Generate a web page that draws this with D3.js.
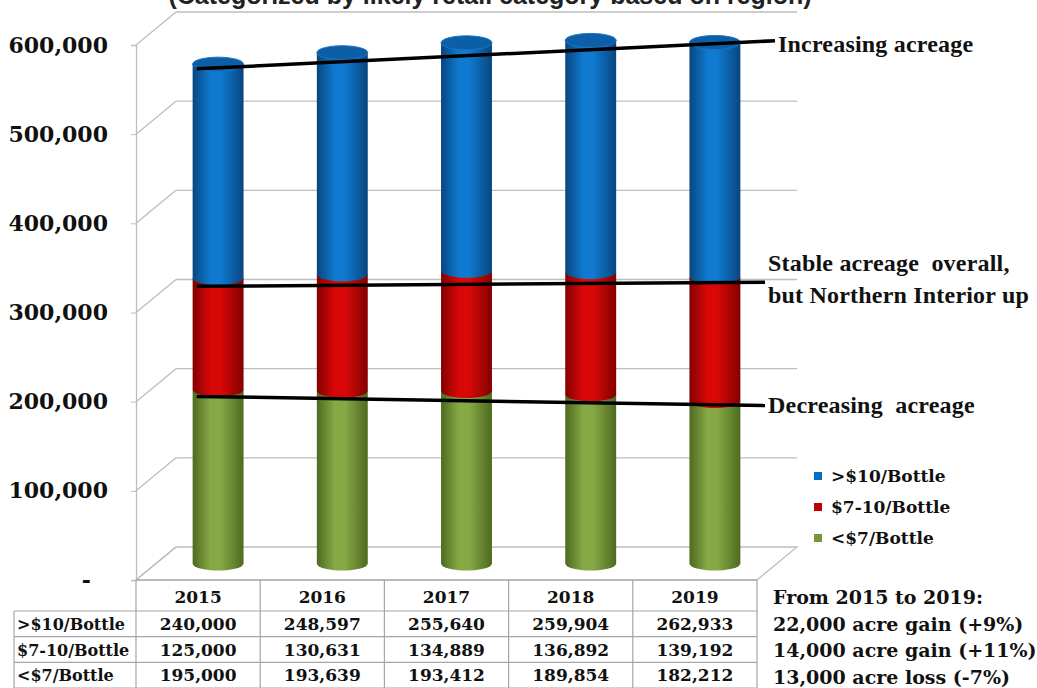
<!DOCTYPE html>
<html>
<head>
<meta charset="utf-8">
<script src="https://cdn.jsdelivr.net/npm/d3@7"></script>
<style>
  html, body { margin: 0; padding: 0; background: #fff; }
  svg { display: block; }
</style>
</head>
<body>
<svg id="chart" width="1037" height="688"></svg>
<script>
// ------------------- Data -------------------
const years = ["2015", "2016", "2017", "2018", "2019"];
const seriesNames = ["<$7/Bottle", "$7-10/Bottle", ">$10/Bottle"];   // bottom -> top
const under7 = [195000, 193639, 193412, 189854, 182212];
const from7to10 = [125000, 130631, 134889, 136892, 139192];
const over10 = [240000, 248597, 255640, 259904, 262933];
const yTicks = [0, 100000, 200000, 300000, 400000, 500000, 600000];

// trend annotations: value at the 2015 bar and at the 2019 bar
const trendLabels = [["Increasing acreage"], ["Stable acreage  overall,", "but Northern Interior up"], ["Decreasing  acreage"]];
const trendStart = [556000, 311000, 187000];
const trendEnd = [583000, 315000, 178000];

const summaryLines = ["From 2015 to 2019:", "22,000 acre gain (+9%)", "14,000 acre gain (+11%)", "13,000 acre loss (-7%)"];
const titleText = "(Categorized by likely retail category based on region)";

// ------------------- Setup -------------------
const svg = d3.select("#chart");
const serif = "'DejaVu Serif', serif";
const times = "'Liberation Serif', 'Times New Roman', serif";

const depth = { dx: 40, dy: -33 };     // 3d offset of the back wall
const x = d3.scaleBand().domain(years).range([136, 757]);
const y = d3.scaleLinear().domain([0, 600000]).range([580, 45]);
const yMid = v => y(v) + depth.dy / 2;  // plane through bar centres
const barW = x.bandwidth() * 0.41;
const rx = barW / 2, ry = 7;
const cx = d => x(d) + x.bandwidth() / 2 + depth.dx / 2;

const colors = {
  "<$7/Bottle":   { edge: "#4e6a20", mid: "#86a845", base: "#77933C", cap: "#6f8c34" },
  "$7-10/Bottle": { edge: "#840000", mid: "#d80808", base: "#C00000", cap: "#b00000" },
  ">$10/Bottle":  { edge: "#08467f", mid: "#0f7ad0", base: "#0070C0", cap: "#0c5fa6" }
};

// title, mostly cut off at the top (as in the source image)
svg.append("text")
  .attr("x", 490).attr("y", 4)
  .attr("text-anchor", "middle")
  .attr("font-family", "'Liberation Sans', Arial, sans-serif")
  .attr("font-weight", "bold").attr("font-size", 25)
  .attr("fill", "#222")
  .text(titleText);

// ------------------- Walls / grid -------------------
const grid = svg.append("g").attr("stroke", "#bdbdbd").attr("stroke-width", 1.3).attr("fill", "none");
const [x0, x1] = x.range();

// floor
grid.append("path")
  .attr("d", `M${x0},${y(0)}L${x1},${y(0)}L${x1 + depth.dx},${y(0) + depth.dy}L${x0 + depth.dx},${y(0) + depth.dy}Z`);

// back wall gridlines + side wall diagonals
grid.selectAll("line.back").data(yTicks.filter(d => d > 0)).join("line")
  .attr("class", "back")
  .attr("x1", x0 + depth.dx).attr("x2", x1 + depth.dx)
  .attr("y1", d => y(d) + depth.dy).attr("y2", d => y(d) + depth.dy);

grid.selectAll("line.side").data(yTicks).join("line")
  .attr("class", "side")
  .attr("x1", x0).attr("x2", x0 + depth.dx)
  .attr("y1", d => y(d)).attr("y2", d => y(d) + depth.dy);

// y axis
const yAxis = svg.append("g")
  .attr("transform", `translate(${x0},0)`)
  .call(d3.axisLeft(y).tickValues(yTicks).tickSize(5).tickPadding(23)
    .tickFormat(d => d === 0 ? "-" : d3.format(",")(d)));
yAxis.select(".domain").attr("stroke", "#bdbdbd").attr("stroke-width", 1.3);
yAxis.selectAll(".tick line").attr("stroke", "#bdbdbd");
yAxis.selectAll(".tick text")
  .attr("font-family", serif).attr("font-weight", "bold").attr("font-size", 22)
  .attr("fill", "#111")
  .attr("dx", d => d === 0 ? -17 : 0);

// ------------------- Cylinders -------------------
const defs = svg.append("defs");
seriesNames.forEach((s, i) => {
  const c = colors[s];
  const grad = defs.append("linearGradient").attr("id", "g" + i)
    .attr("x1", "0%").attr("x2", "100%").attr("y1", "0%").attr("y2", "0%");
  grad.append("stop").attr("offset", "0%").attr("stop-color", c.edge);
  grad.append("stop").attr("offset", "35%").attr("stop-color", c.mid);
  grad.append("stop").attr("offset", "55%").attr("stop-color", c.mid);
  grad.append("stop").attr("offset", "100%").attr("stop-color", c.edge);
});

const rowsTable = years.map((yr, i) => ({ year: yr, "<$7/Bottle": under7[i], "$7-10/Bottle": from7to10[i], ">$10/Bottle": over10[i] }));
const stack = d3.stack().keys(seriesNames)(rowsTable);

function segPath(d) {
  const c = cx(d.data.year);
  const yb = yMid(d[0]), yt = yMid(d[1]);
  return `M${c - rx},${yt}L${c - rx},${yb}A${rx},${ry} 0 0 0 ${c + rx},${yb}L${c + rx},${yt}Z`;
}

const bars = svg.append("g");
stack.forEach((layer, i) => {
  bars.append("g")
    .selectAll("path").data(layer).join("path")
    .attr("d", segPath)
    .attr("fill", `url(#g${i})`);
});

// caps on top of the highest series
const topLayer = stack[stack.length - 1];
bars.append("g").selectAll("ellipse").data(topLayer).join("ellipse")
  .attr("cx", d => cx(d.data.year))
  .attr("cy", d => yMid(d[1]))
  .attr("rx", rx).attr("ry", ry)
  .attr("fill", colors[seriesNames[2]].cap)
  .attr("stroke", "#1a74c4").attr("stroke-width", 1);

// ------------------- Trend lines -------------------
const xa = cx(years[0]), xb = cx(years[years.length - 1]);
const lineStart = xa - rx + 4;
const lineEnds = [x1 + depth.dx - 22, x1 + depth.dx - 32, x1 + depth.dx - 32];
const trends = trendStart.map((v, i) => {
  const ya = yMid(v), yb2 = yMid(trendEnd[i]);
  const slope = (yb2 - ya) / (xb - xa);
  return {
    x1: lineStart, y1: ya + slope * (lineStart - xa),
    x2: lineEnds[i], y2: ya + slope * (lineEnds[i] - xa),
    label: trendLabels[i]
  };
});

svg.append("g").selectAll("line").data(trends).join("line")
  .attr("x1", d => d.x1).attr("y1", d => d.y1)
  .attr("x2", d => d.x2).attr("y2", d => d.y2)
  .attr("stroke", "#000").attr("stroke-width", 3.5);

const tl = svg.append("g").selectAll("text").data(trends).join("text")
  .attr("font-family", times).attr("font-weight", "bold").attr("font-size", 24)
  .attr("letter-spacing", 0.2)
  .attr("fill", "#111")
  .style("white-space", "pre")
  .attr("x", d => d.x2 + 3)
  .attr("y", (d, i) => i === 0 ? d.y2 + 11 : i === 1 ? d.y2 - 11 : d.y2 + 7);
tl.selectAll("tspan").data(d => d.label.map(t => ({ t, x: d.x2 + 3 }))).join("tspan")
  .attr("x", d => d.x)
  .attr("dy", (d, i) => i === 0 ? 0 : 32)
  .text(d => d.t);

// ------------------- Legend -------------------
const legend = svg.append("g").attr("transform", "translate(814,476)");
const legendOrder = seriesNames.slice().reverse();
legend.selectAll("rect").data(legendOrder).join("rect")
  .attr("x", 0).attr("y", (d, i) => i * 31 - 4)
  .attr("width", 8).attr("height", 8)
  .attr("fill", d => colors[d].base);
legend.selectAll("text").data(legendOrder).join("text")
  .attr("x", 17).attr("y", (d, i) => i * 31 + 6)
  .attr("font-family", serif).attr("font-weight", "bold").attr("font-size", 17)
  .attr("fill", "#111")
  .text(d => d);

// ------------------- Data table -------------------
const rowTop = y(0), headH = 31, rowH = 25.7, labelX0 = 14;
const rowData = [
  { name: ">$10/Bottle", values: over10 },
  { name: "$7-10/Bottle", values: from7to10 },
  { name: "<$7/Bottle", values: under7 }
];
const tg = svg.append("g");
const tlines = tg.append("g").attr("stroke", "#a6a6a6").attr("stroke-width", 1.2);
// horizontal lines
tlines.append("line").attr("x1", x0).attr("x2", x1).attr("y1", rowTop).attr("y2", rowTop);
tlines.selectAll("line.h").data(d3.range(rowData.length + 1)).join("line")
  .attr("class", "h")
  .attr("x1", labelX0).attr("x2", x1)
  .attr("y1", i => rowTop + headH + i * rowH).attr("y2", i => rowTop + headH + i * rowH);
// vertical lines
tlines.selectAll("line.v").data(years.map(d => x(d)).concat([x1])).join("line")
  .attr("class", "v")
  .attr("x1", d => d).attr("x2", d => d)
  .attr("y1", rowTop).attr("y2", rowTop + headH + rowData.length * rowH);
tlines.append("line").attr("x1", labelX0).attr("x2", labelX0)
  .attr("y1", rowTop + headH).attr("y2", rowTop + headH + rowData.length * rowH);

const cellFont = sel => sel.attr("font-family", serif).attr("font-weight", "bold").attr("fill", "#111");

tg.append("g").selectAll("text").data(years).join("text")
  .call(cellFont).attr("font-size", 17)
  .attr("x", d => x(d) + x.bandwidth() / 2)
  .attr("y", rowTop + headH / 2 + 7)
  .attr("text-anchor", "middle")
  .text(d => d);

const rows = tg.append("g").selectAll("g").data(rowData).join("g")
  .attr("transform", (d, i) => `translate(0,${rowTop + headH + i * rowH + rowH / 2 + 6})`);
rows.append("text").call(cellFont).attr("font-size", 16)
  .attr("x", labelX0 + 3).text(d => d.name);
rows.selectAll("text.v").data(d => d.values.map((v, i) => ({ v, yr: years[i] }))).join("text")
  .attr("class", "v")
  .call(cellFont).attr("font-size", 17)
  .attr("x", d => x(d.yr) + x.bandwidth() / 2)
  .attr("text-anchor", "middle")
  .text(d => d3.format(",")(d.v));

// ------------------- Summary -------------------
svg.append("g").selectAll("text").data(summaryLines).join("text")
  .call(cellFont).attr("font-size", 19)
  .attr("x", 773)
  .attr("y", (d, i) => 604 + i * 26.5)
  .text(d => d);
</script>
</body>
</html>
